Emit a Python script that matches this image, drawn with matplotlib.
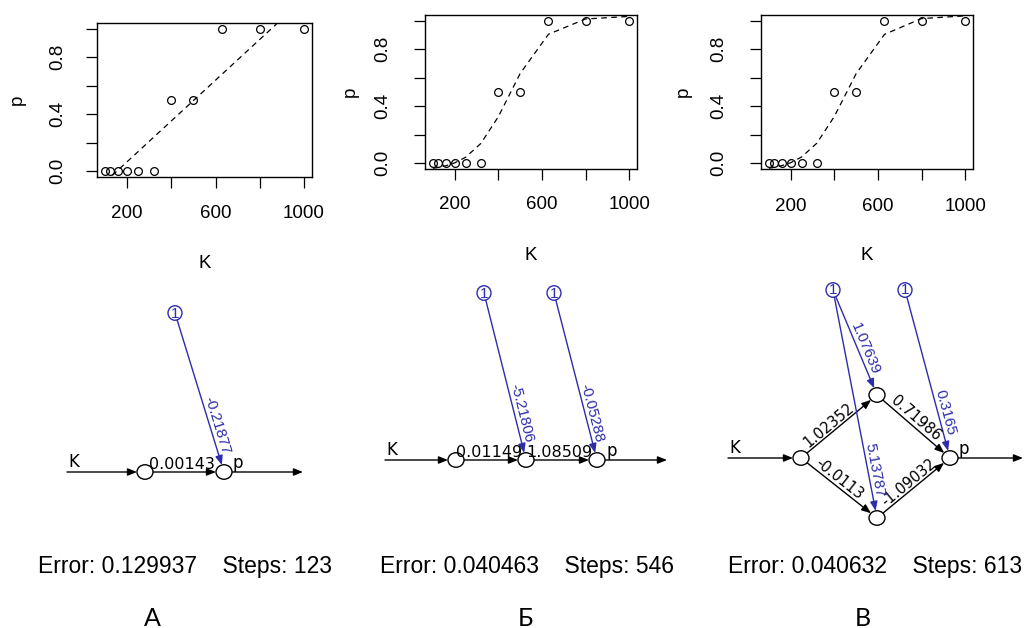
import matplotlib
matplotlib.use('Agg')
import matplotlib.pyplot as plt
from matplotlib.patches import Ellipse
import numpy as np

# ---------------- data ----------------
K = [100, 125, 160, 200, 250, 320, 400, 500, 630, 800, 1000]
p = [0, 0, 0, 0, 0, 0, 0.5, 0.5, 1, 1, 1]
fit_A = [-0.076, -0.040, 0.010, 0.067, 0.138, 0.239, 0.353, 0.496, 0.682, 0.925, 1.211]
fit_B = [-0.035, -0.029, -0.017, 0.003, 0.042, 0.139, 0.326, 0.629, 0.905, 1.012, 1.030]
fit_C = [-0.035, -0.028, -0.016, 0.004, 0.044, 0.141, 0.328, 0.628, 0.904, 1.015, 1.034]

x_ticks = [200, 400, 600, 800, 1000]
x_ticklabels = ['200', '', '600', '', '1000']
y_ticks = [0.0, 0.2, 0.4, 0.6, 0.8, 1.0]
y_ticklabels = ['0.0', '', '0.4', '', '0.8', '']

weights_A = ['0.00143']
bias_A = ['-0.21877']
weights_B = ['0.01149', '1.08509']
bias_B = ['-5.21806', '-0.05288']
weights_C = ['1.02352', '-0.0113', '0.71986', '-1.09032']
bias_C = ['1.07639', '5.13787', '0.3165']

errors = ['0.129937', '0.040463', '0.040632']
steps = ['123', '546', '613']
panel_letters = ['А', 'Б', 'В']

# ---------------- figure ----------------
W, H = 1029, 628
fig = plt.figure(figsize=(W / 100, H / 100), dpi=100)
fig.patch.set_facecolor('white')

SANS = ['Liberation Sans', 'DejaVu Sans']
BLUE = '#2d2dab'

# overlay axes in pixel coordinates (for the network diagrams)
ov = fig.add_axes([0, 0, 1, 1], zorder=0)
ov.set_xlim(0, W)
ov.set_ylim(H, 0)
ov.axis('off')

# ---------------- scatter panels ----------------
rects = [(97, 23, 312, 177), (425, 15, 637, 169), (761, 15, 973, 169)]
fits = [fit_A, fit_B, fit_C]
ylabel_x = [-0.37, -0.354, -0.368]
xlabel_px = [263.5, 255, 255]
ypads = [14, 16, 16]
xpads = [12.5, 11.5, 13]

for i, (l, t, r, b) in enumerate(rects):
    ax = fig.add_axes([l / W, 1 - b / H, (r - l) / W, (b - t) / H], zorder=1)
    ax.plot(K, fits[i], color='black', lw=0.9, ls=(0, (4.5, 3.5)), zorder=2)
    ax.plot(K, p, 'o', mfc='none', mec='black', ms=5.6, mew=0.9, zorder=3)
    ax.set_xlim(64, 1036)
    ax.set_ylim(-0.04, 1.04)
    ax.set_xticks(x_ticks)
    ax.set_xticklabels(x_ticklabels, family=SANS, fontsize=13.5)
    ax.set_yticks(y_ticks)
    ax.set_yticklabels(y_ticklabels, family=SANS, fontsize=13.5,
                       rotation=90, va='center')
    ax.tick_params(axis='x', direction='out', length=8, width=0.9, pad=xpads[i])
    ax.tick_params(axis='y', direction='out', length=8, width=0.9, pad=ypads[i])
    for s in ax.spines.values():
        s.set_linewidth(1.0)
    ax.set_xlabel('K', family=SANS, fontsize=13.5, va='center')
    ax.xaxis.set_label_coords(0.5, (b - xlabel_px[i]) / (b - t))
    ax.set_ylabel('p', family=SANS, fontsize=13.5, va='center')
    ax.yaxis.set_label_coords(ylabel_x[i], 0.5)

# ---------------- network diagrams ----------------
NW, NH = 16, 14.5   # node ellipse size
BW, BH = 14, 14.5   # bias ellipse size


def ell_r(u, w, h):
    a, bb = w / 2, h / 2
    return 1.0 / np.sqrt((u[0] / a) ** 2 + (u[1] / bb) ** 2)


def node(xy):
    ov.add_patch(Ellipse(xy, NW, NH, facecolor='white', edgecolor='black',
                         lw=1.0, zorder=3))


def bias_node(xy):
    ov.add_patch(Ellipse(xy, BW, BH, facecolor='white', edgecolor=BLUE,
                         lw=1.0, zorder=3))
    ov.text(xy[0], xy[1] + 0.5, '1', color=BLUE, ha='center', va='center',
            family=SANS, fontsize=11, zorder=4)


def arrow(p0, p1, color):
    ov.annotate('', xy=p1, xytext=p0,
                arrowprops=dict(arrowstyle='-|>,head_length=0.55,head_width=0.22',
                                color=color, lw=1.0, shrinkA=0, shrinkB=0,
                                mutation_scale=10),
                zorder=2)


def edge(c0, c1, color, size0=(NW, NH), size1=(NW, NH), label=None,
         t=None, dist_end=None):
    c0 = np.array(c0, float)
    c1 = np.array(c1, float)
    d = c1 - c0
    L = np.hypot(*d)
    u = d / L
    p0 = c0 + u * ell_r(u, *size0)
    p1 = c1 - u * ell_r(u, *size1)
    arrow(p0, p1, color)
    if label is not None:
        ang = np.degrees(np.arctan2(-d[1], d[0]))
        if t is not None:
            pos = c0 + u * L * t
        else:
            pos = c1 - u * dist_end
        if abs(ang) > 60:
            fam, fs = SANS, 11
        elif abs(ang) > 20:
            fam, fs = ['DejaVu Sans'], 10.5
        else:
            fam, fs = ['DejaVu Sans'], 11.5
        ov.text(pos[0], pos[1], label, rotation=ang, rotation_mode='anchor',
                ha='center', va='bottom', color=color, family=fam,
                fontsize=fs, zorder=4)


def in_out(x_start, in_node, out_node, x_end):
    y = in_node[1]
    arrow((x_start, y), (in_node[0] - NW / 2, y), 'black')
    arrow((out_node[0] + NW / 2, out_node[1]), (x_end, out_node[1]), 'black')
    ov.text(x_start + 1, y - 1, 'K', ha='left', va='bottom',
            family=['DejaVu Sans'], fontsize=12, zorder=4)
    ov.text(out_node[0] + NW / 2 + 1, out_node[1] - 0.5, 'p', ha='left',
            va='bottom', family=['DejaVu Sans'], fontsize=12, zorder=4)


T_MAIN = 0.47
D_BIAS = 47

# ---- А ----
inA, outA, bA = (145, 472), (224, 472), (175, 313)
in_out(67, inA, outA, 303)
node(inA); node(outA); bias_node(bA)
edge(inA, outA, 'black', label=weights_A[0], t=T_MAIN)
edge(bA, outA, BLUE, size0=(BW, BH), label=bias_A[0], dist_end=D_BIAS)

# ---- Б ----
inB, hB, outB = (456, 460), (526, 460), (597, 460)
b1B, b2B = (484, 293), (554, 293)
in_out(385, inB, outB, 667)
for n in (inB, hB, outB):
    node(n)
bias_node(b1B); bias_node(b2B)
edge(inB, hB, 'black', label=weights_B[0], t=T_MAIN)
edge(hB, outB, 'black', label=weights_B[1], t=T_MAIN)
edge(b1B, hB, BLUE, size0=(BW, BH), label=bias_B[0], dist_end=D_BIAS)
edge(b2B, outB, BLUE, size0=(BW, BH), label=bias_B[1], dist_end=D_BIAS)

# ---- В ----
inC, h1C, h2C, outC = (801, 458), (877, 395), (877, 518), (950, 458)
b1C, b2C = (833, 290), (905, 290)
in_out(728, inC, outC, 1023)
for n in (inC, h1C, h2C, outC):
    node(n)
bias_node(b1C); bias_node(b2C)
edge(inC, h1C, 'black', label=weights_C[0], t=0.43)
edge(inC, h2C, 'black', label=weights_C[1], t=0.44)
edge(h1C, outC, 'black', label=weights_C[2], t=0.46)
edge(h2C, outC, 'black', label=weights_C[3], t=0.5)
edge(b1C, h1C, BLUE, size0=(BW, BH), label=bias_C[0], dist_end=D_BIAS)
edge(b1C, h2C, BLUE, size0=(BW, BH), label=bias_C[1], dist_end=D_BIAS)
edge(b2C, outC, BLUE, size0=(BW, BH), label=bias_C[2], dist_end=45)

# ---------------- captions ----------------
cap_x = [185, 527, 875]
for i in range(3):
    ov.text(cap_x[i], 567, f'Error: {errors[i]}    Steps: {steps[i]}',
            ha='center', va='center', family=SANS, fontsize=16.5, zorder=4)
letter_x = [152, 525, 863]
for i in range(3):
    ov.text(letter_x[i], 618, panel_letters[i], ha='center', va='center',
            family=['Lato', 'Noto Sans', 'DejaVu Sans'], fontsize=18, zorder=4)

fig.savefig('out.png', dpi=100)
